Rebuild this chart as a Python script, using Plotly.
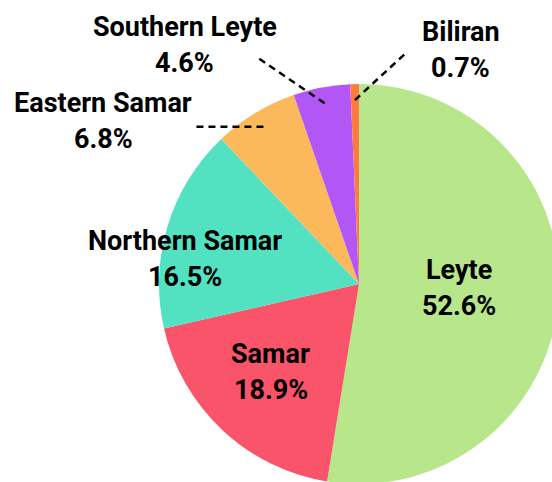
import math
import plotly.graph_objects as go

# ---- data ----
regions = ["Leyte", "Samar", "Northern Samar", "Eastern Samar", "Southern Leyte", "Biliran"]
shares = [52.6, 18.9, 16.5, 6.8, 4.6, 0.7]
colors = ["#b8e68a", "#fa546a", "#52e2c2", "#fbb95c", "#b256f6", "#ff7a40"]

# ---- layout / style ----
# the figure is slightly larger than the 552x482 window so the pie is cropped at right/bottom
W, H = 560, 490
FONT = "Roboto, Liberation Sans, sans-serif"
FS = 27
LINE_GAP = 18          # half distance between name line and percent line
DOM_X = [159 / W, 559 / W]
DOM_Y = [1 - 484 / H, 1 - 84 / H]

# inside labels: tweak (px) from point at 0.6 r along mid angle
inside_tweak = {"Leyte": (-20, -6), "Samar": (-6, 0), "Northern Samar": (-59, 10)}
# outside labels: leader from 0.92 r along mid angle, by offset; label offset from leader end
outside_leader = {"Eastern Samar": (-72, 0), "Southern Leyte": (-66, -45), "Biliran": (52, -48)}
outside_label = {"Eastern Samar": (-88, -6), "Southern Leyte": (-74, -13), "Biliran": (54, -2)}

fig = go.Figure(go.Pie(
    labels=regions, values=shares, sort=False, direction="clockwise", rotation=0,
    marker=dict(colors=colors, line=dict(width=0)),
    textinfo="none", showlegend=False, domain=dict(x=DOM_X, y=DOM_Y),
))

# geometry derived from the pie domain
dw = (DOM_X[1] - DOM_X[0]) * W
dh = (DOM_Y[1] - DOM_Y[0]) * H
R = min(dw, dh) / 2
CX = (DOM_X[0] + DOM_X[1]) / 2 * W
CY = (1 - (DOM_Y[0] + DOM_Y[1]) / 2) * H


def px2paper(x, y):
    return x / W, 1 - y / H


total = sum(shares)
cum = 0.0
annotations = []
shapes = []
for name, v in zip(regions, shares):
    mid = (cum + v / 2) / total * 2 * math.pi
    cum += v
    ux, uy = math.sin(mid), -math.cos(mid)
    if name in inside_tweak:
        tx, ty = inside_tweak[name]
        lx = CX + 0.6 * R * ux + tx
        ly = CY + 0.6 * R * uy + ty
    else:
        ix, iy = CX + 0.92 * R * ux, CY + 0.92 * R * uy
        ox, oy = ix + outside_leader[name][0], iy + outside_leader[name][1]
        x0, y0 = px2paper(ix, iy)
        x1, y1 = px2paper(ox, oy)
        shapes.append(dict(type="line", xref="paper", yref="paper", x0=x0, y0=y0, x1=x1, y1=y1,
                           line=dict(color="black", width=2.5, dash="7px,5px")))
        lx = ox + outside_label[name][0]
        ly = oy + outside_label[name][1]
    for txt, dy in ((name, -LINE_GAP), (f"{v}%", LINE_GAP)):
        ax, ay = px2paper(lx, ly + dy)
        annotations.append(dict(x=ax, y=ay, xref="paper", yref="paper",
                                text=f"<b>{txt}</b>",
                                showarrow=False, xanchor="center", yanchor="middle",
                                font=dict(family=FONT, size=FS, color="black")))

fig.update_layout(
    width=W, height=H, margin=dict(l=0, r=0, t=0, b=0),
    paper_bgcolor="white", plot_bgcolor="white",
    annotations=annotations, shapes=shapes,
)

fig.write_html(
    "out.html",
    post_script="document.documentElement.style.overflow='hidden';document.body.style.overflow='hidden';document.body.style.margin='0';",
)
